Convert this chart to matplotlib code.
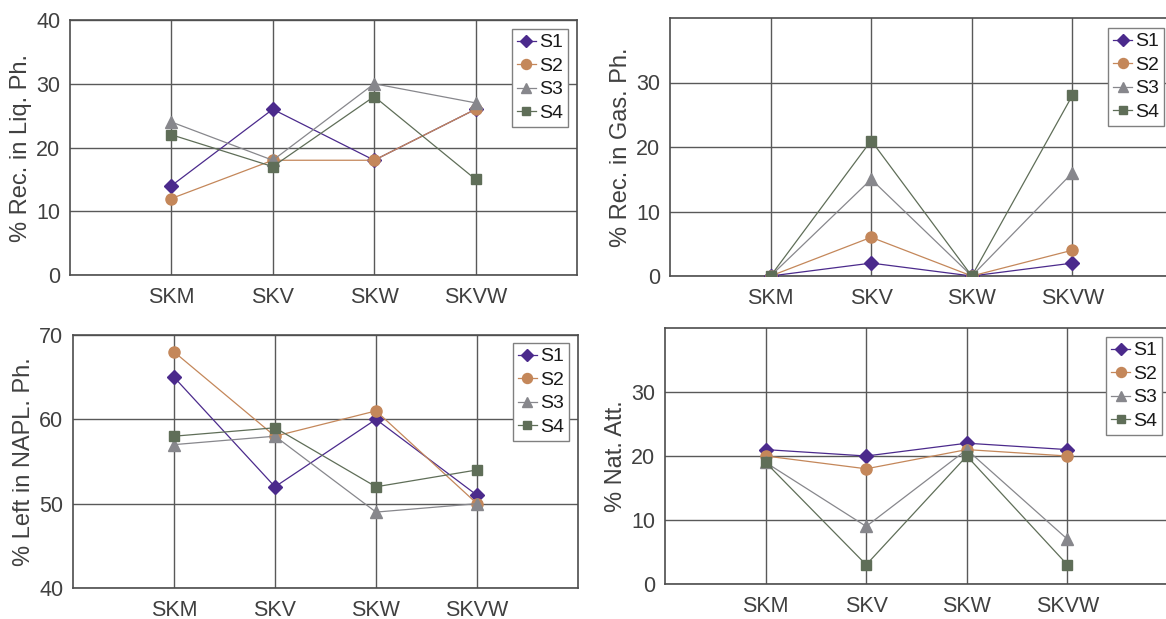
import matplotlib
matplotlib.use("Agg")
import matplotlib.pyplot as plt

plt.rcParams['font.family'] = ['Liberation Sans', 'DejaVu Sans']

# data
cats = ['SKM', 'SKV', 'SKW', 'SKVW']
series = ['S1', 'S2', 'S3', 'S4']

liq = [[14, 26, 18, 26],
       [12, 18, 18, 26],
       [24, 18, 30, 27],
       [22, 17, 28, 15]]
gas = [[0, 2, 0, 2],
       [0, 6, 0, 4],
       [0, 15, 0, 16],
       [0, 21, 0, 28]]
napl = [[65, 52, 60, 51],
        [68, 58, 61, 50],
        [57, 58, 49, 50],
        [58, 59, 52, 54]]
natatt = [[21, 20, 22, 21],
          [20, 18, 21, 20],
          [19, 9, 21, 7],
          [19, 3, 20, 3]]

colors = ['#4b2a8c', '#c4875a', '#87878c', '#5f6e58']
markers = ['D', 'o', '^', 's']
msizes = [7, 8, 8, 7]

W, H = 1166, 619
fig = plt.figure(figsize=(W / 100, H / 100), dpi=100)

# (left, right, top, bottom) in px, data, ylabel, ylim, yticks, legend corner
panels = [
    ((70, 577, 20, 275), liq, '% Rec. in Liq. Ph.', (0, 40), [0, 10, 20, 30, 40], (568, 29)),
    ((670, 1173, 18, 276), gas, '% Rec. in Gas. Ph.', (0, 40), [0, 10, 20, 30], (1164, 28)),
    ((73, 578, 335, 588), napl, '% Left in NAPL. Ph.', (40, 70), [40, 50, 60, 70], (569, 343)),
    ((665, 1168, 328, 584), natatt, '% Nat. Att.', (0, 40), [0, 10, 20, 30], (1162, 337)),
]

txt = '#404040'
x = [1, 2, 3, 4]

for (l, r, t, b), data, ylab, ylim, yt, leg in panels:
    ax = fig.add_axes([l / W, 1 - b / H, (r - l) / W, (b - t) / H])
    for i, s in enumerate(series):
        ax.plot(x, data[i], color=colors[i], marker=markers[i], ms=msizes[i],
                mfc=colors[i], mec=colors[i], lw=0.9, label=s, zorder=3)
    ax.set_xlim(0, 5)
    ax.set_ylim(*ylim)
    ax.set_xticks(x)
    ax.set_xticklabels(cats)
    ax.set_yticks(yt)
    ax.grid(True, color='#595959', lw=1.0, zorder=0)
    ax.set_axisbelow(True)
    for sp in ax.spines.values():
        sp.set_color('#4d4d4d')
        sp.set_linewidth(1.2)
    ax.tick_params(length=0, labelsize=15.5, colors=txt)
    ax.tick_params(axis='x', pad=8.5)
    ax.tick_params(axis='y', pad=7)
    ax.set_ylabel(ylab, fontsize=17, color=txt, labelpad=3)
    lg = ax.legend(loc='upper right', bbox_to_anchor=(leg[0] / W, 1 - leg[1] / H),
                   bbox_transform=fig.transFigure, fontsize=14, frameon=True,
                   fancybox=False, framealpha=1, edgecolor='#808080',
                   handlelength=1.0, handletextpad=0.15, borderpad=0.25,
                   labelspacing=0.3, borderaxespad=0, markerscale=0.9)
    lg.get_frame().set_linewidth(1.0)
    for tx in lg.get_texts():
        tx.set_color('#1a1a1a')

fig.savefig('out.png', dpi=100)
